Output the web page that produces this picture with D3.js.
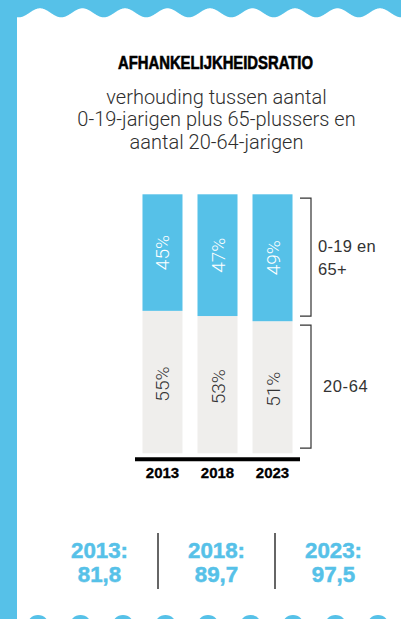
<!DOCTYPE html>
<html>
<head>
<meta charset="utf-8">
<script src="https://cdn.jsdelivr.net/npm/d3@7"></script>
<style>
  html, body { margin: 0; padding: 0; background: #ffffff; }
  svg { display: block; }
</style>
</head>
<body>
<div id="chart"></div>
<script>
// ---- data ----
const years = ["2013", "2018", "2023"];
const youngOld = [45, 47, 49];      // 0-19 en 65+ (%)
const working = [55, 53, 51];       // 20-64 (%)
const ratios = ["81,8", "89,7", "97,5"];
const title = "AFHANKELIJKHEIDSRATIO";
const subtitle = ["verhouding tussen aantal", "0-19-jarigen plus 65-plussers en", "aantal 20-64-jarigen"];
const bracketLabels = [["0-19 en", "65+"], ["20-64"]];
const bracketRanges = [[98.5, 53], [49.5, 2]];

// ---- setup ----
const W = 401, H = 619;
const BLUE = "#56c1e8", GREY = "#efeeec", DARK = "#333333";
const svg = d3.select("#chart").append("svg").attr("width", W).attr("height", H);

// decorative frame
svg.append("rect").attr("x", 0).attr("y", 0).attr("width", W).attr("height", H).attr("fill", "#fff");
svg.append("rect").attr("x", 0).attr("y", 0).attr("width", 17).attr("height", H).attr("fill", BLUE);
const period = 42.5;
const wx = d3.range(17, W + 1, 0.5);
const wave = d3.area()
  .x(d => d)
  .y0(0)
  .y1(d => 12.8 + 4.5 * Math.cos(2 * Math.PI * (d - 18.75) / period));
svg.append("path").datum(wx).attr("d", wave).attr("fill", BLUE);
svg.append("rect").attr("x", 0).attr("y", 0).attr("width", 20).attr("height", 17).attr("fill", BLUE);
svg.selectAll("circle.bump").data(d3.range(0, 9)).enter().append("circle")
  .attr("class", "bump")
  .attr("cx", k => 38 + period * k)
  .attr("cy", 626)
  .attr("r", 11)
  .attr("fill", BLUE);

// title
svg.append("text")
  .attr("x", 215.5).attr("y", 68.5)
  .attr("text-anchor", "middle")
  .attr("font-family", "'Liberation Sans Narrow', 'Liberation Sans', Arial, sans-serif")
  .attr("font-weight", "bold")
  .attr("font-size", 18)
  .attr("fill", "#000")
  .attr("stroke", "#000").attr("stroke-width", 0.6)
  .attr("textLength", 195)
  .attr("lengthAdjust", "spacingAndGlyphs")
  .text(title);

// subtitle
svg.append("g").selectAll("text").data(subtitle).enter().append("text")
  .attr("x", 216.5)
  .attr("y", (d, i) => 103.5 + i * 22.5)
  .attr("text-anchor", "middle")
  .attr("font-family", "Roboto, 'Noto Sans', sans-serif")
  .attr("font-weight", 300)
  .attr("font-size", 20)
  .attr("fill", "#2e2e2e")
  .text(d => d);

// scales
const x = d3.scaleBand().domain(years).range([135, 300]).paddingInner(15 / 55).paddingOuter(0.136);
const y = d3.scaleLinear().domain([0, 100]).range([453.3, 194.3]);

const rows = years.map((yr, i) => ({ year: yr, top: youngOld[i], bottom: working[i] }));

const bars = svg.append("g");
// grey (20-64) bottom segment
bars.selectAll("rect.w").data(rows).enter().append("rect")
  .attr("x", d => x(d.year)).attr("width", x.bandwidth())
  .attr("y", d => y(d.bottom)).attr("height", d => y(0) - y(d.bottom))
  .attr("fill", GREY);
// blue (0-19 + 65+) top segment
bars.selectAll("rect.b").data(rows).enter().append("rect")
  .attr("x", d => x(d.year)).attr("width", x.bandwidth())
  .attr("y", d => y(d.bottom + d.top)).attr("height", d => y(d.bottom) - y(d.bottom + d.top))
  .attr("fill", BLUE);

const pctFont = "Roboto, 'Liberation Sans', sans-serif";
bars.selectAll("text.b").data(rows).enter().append("text")
  .attr("transform", d => `translate(${x(d.year) + x.bandwidth() / 2 + 0.5},${(y(d.bottom) + y(d.bottom + d.top)) / 2}) rotate(-90)`)
  .attr("text-anchor", "middle").attr("dominant-baseline", "central")
  .attr("font-family", pctFont).attr("font-weight", 300).attr("font-size", 19)
  .attr("fill", "#fff")
  .text(d => d.top + "%");
bars.selectAll("text.w").data(rows).enter().append("text")
  .attr("transform", d => `translate(${x(d.year) + x.bandwidth() / 2 + 0.5},${(y(0) + y(d.bottom)) / 2 + 2}) rotate(-90)`)
  .attr("text-anchor", "middle").attr("dominant-baseline", "central")
  .attr("font-family", pctFont).attr("font-weight", 300).attr("font-size", 19)
  .attr("fill", DARK)
  .text(d => d.bottom + "%");

// x axis
const xAxis = svg.append("g").attr("transform", "translate(0,459.3)")
  .call(d3.axisBottom(x).tickSize(0).tickPadding(15));
xAxis.select(".domain").attr("stroke", "#000").attr("stroke-width", 4).attr("d", "M135,0H300");
xAxis.selectAll(".tick text")
  .attr("font-family", "'Liberation Sans', Arial, sans-serif")
  .attr("font-weight", "bold").attr("font-size", 15).attr("fill", "#000")
  .attr("stroke", "#000").attr("stroke-width", 0.3)
  .attr("dy", null).attr("y", 18.7);

// brackets
const bx = 311, btick = 11;
const br = svg.append("g");
bracketRanges.forEach((r, i) => {
  const y0 = y(r[0]), y1 = y(r[1]);
  br.append("path")
    .attr("d", `M${bx - btick},${y0}H${bx}V${y1}H${bx - btick}`)
    .attr("fill", "none").attr("stroke", DARK).attr("stroke-width", 1.2);
});
const lblFont = "'Liberation Sans', Arial, sans-serif";
br.selectAll("text.l1").data(bracketLabels[0]).enter().append("text")
  .attr("x", 318).attr("y", (d, i) => 252 + i * 22.5)
  .attr("font-family", lblFont).attr("font-size", 16.5).attr("fill", DARK)
  .attr("letter-spacing", 0.3)
  .text(d => d);
br.selectAll("text.l2").data(bracketLabels[1]).enter().append("text")
  .attr("x", 323).attr("y", 392)
  .attr("font-family", lblFont).attr("font-size", 16.5).attr("fill", DARK)
  .attr("letter-spacing", 0.6)
  .text(d => d);

// bottom stats
const sx = d3.scalePoint().domain(years).range([99.5, 333.5]);
const stats = svg.append("g");
const statRows = years.map((yr, i) => ({ year: yr, v: ratios[i] }));
stats.selectAll("text.yr").data(statRows).enter().append("text")
  .attr("x", d => sx(d.year)).attr("y", 557.5)
  .attr("text-anchor", "middle")
  .attr("font-family", "'Liberation Sans', Arial, sans-serif").attr("font-weight", "bold")
  .attr("font-size", 22.3).attr("fill", BLUE)
  .attr("stroke", BLUE).attr("stroke-width", 0.5)
  .text(d => d.year + ":");
stats.selectAll("text.v").data(statRows).enter().append("text")
  .attr("x", d => sx(d.year)).attr("y", 582)
  .attr("text-anchor", "middle")
  .attr("font-family", "'Liberation Sans', Arial, sans-serif").attr("font-weight", "bold")
  .attr("font-size", 22.3).attr("fill", BLUE)
  .attr("stroke", BLUE).attr("stroke-width", 0.5)
  .text(d => d.v);
stats.selectAll("line").data(d3.pairs(years)).enter().append("line")
  .attr("x1", d => (sx(d[0]) + sx(d[1])) / 2).attr("x2", d => (sx(d[0]) + sx(d[1])) / 2)
  .attr("y1", 533).attr("y2", 589)
  .attr("stroke", DARK).attr("stroke-width", 1.5);
</script>
</body>
</html>
